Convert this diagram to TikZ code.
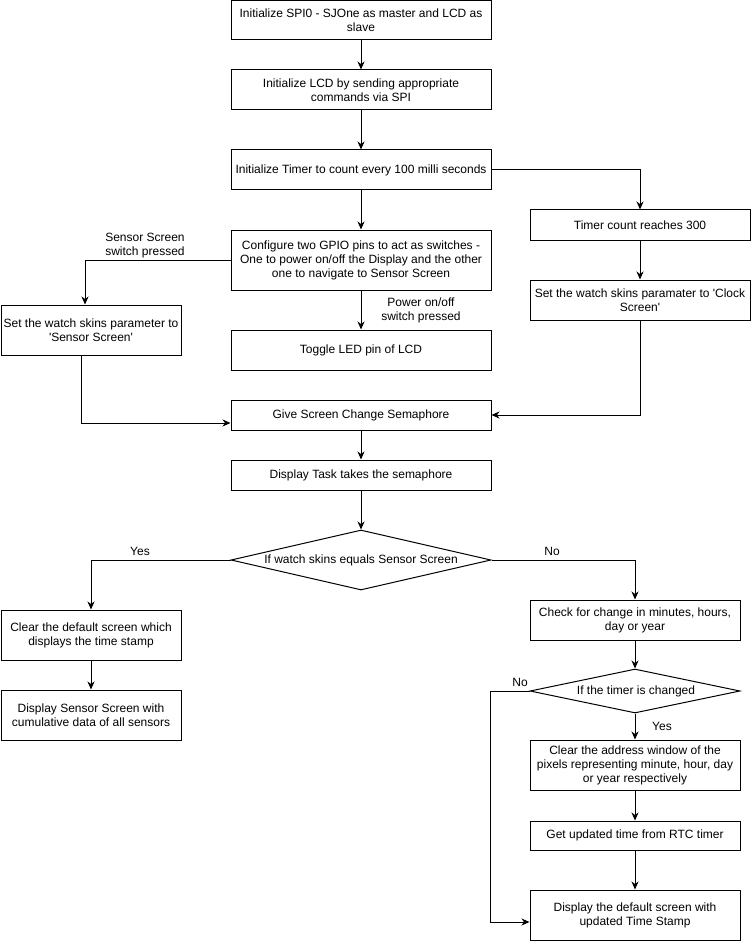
\documentclass[tikz,border=0pt]{standalone}
\usepackage{fontspec}
\setmainfont{Liberation Sans}
\usetikzlibrary{shapes.geometric,arrows.meta}
\begin{document}
\begin{tikzpicture}[x=1pt,y=-1pt,
  every node/.style={font=\fontsize{12}{14}\selectfont, align=center, inner sep=0pt},
  box/.style={draw, line width=1pt, rectangle},
  dia/.style={draw, line width=1pt, diamond},
  lbl/.style={},
  conn/.style={line width=1pt, -{Stealth[length=8pt,width=7pt,inset=2.5pt]}},
]
\useasboundingbox (0,0) rectangle (751,941);
% boxes
\node[box, minimum width=260pt, minimum height=39pt] (b1) at (361,20.5) {Initialize SPI0 - SJOne as master and LCD as\\slave};
\node[box, minimum width=260pt, minimum height=40pt] (b2) at (361,90) {Initialize LCD by sending appropriate\\commands via SPI};
\node[box, minimum width=260pt, minimum height=40pt] (b3) at (361,170) {Initialize Timer to count every 100 milli seconds};
\node[box, minimum width=220pt, minimum height=30pt] (timer) at (640,225) {Timer count reaches 300};
\node[box, minimum width=220pt, minimum height=40pt] (clock) at (640,300) {Set the watch skins paramater to \textquotesingle Clock\\Screen\textquotesingle};
\node[box, minimum width=260pt, minimum height=60pt] (cfg) at (361,260) {Configure two GPIO pins to act as switches -\\One to power on/off the Display and the other\\one to navigate to Sensor Screen};
\node[box, minimum width=180pt, minimum height=50pt] (sensor) at (91,330) {Set the watch skins parameter to\\\textquotesingle Sensor Screen\textquotesingle};
\node[box, minimum width=260pt, minimum height=40pt] (toggle) at (361,350) {Toggle LED pin of LCD};
\node[box, minimum width=260pt, minimum height=30pt] (give) at (361,415) {Give Screen Change Semaphore};
\node[box, minimum width=260pt, minimum height=30pt] (disp) at (361,475) {Display Task takes the semaphore};
\node[dia, minimum width=260pt, minimum height=60pt] (d1) at (361,560) {};
\node (d1t) at (361,560) {If watch skins equals Sensor Screen};
\node[box, minimum width=180pt, minimum height=50pt] (clr) at (91,635) {Clear the default screen which\\displays the time stamp};
\node[box, minimum width=180pt, minimum height=50pt] (dss) at (91,715) {Display Sensor Screen with\\cumulative data of all sensors};
\node[box, minimum width=210pt, minimum height=40pt] (chk) at (635,620) {Check for change in minutes, hours,\\day or year};
\node[dia, minimum width=210pt, minimum height=44pt] (d2) at (635,691) {};
\node (d2t) at (636,691) {If the timer is changed};
\node[box, minimum width=210pt, minimum height=50pt] (caw) at (635,765) {Clear the address window of the\\pixels representing minute, hour, day\\or year respectively};
\node[box, minimum width=210pt, minimum height=29pt] (get) at (635,835.5) {Get updated time from RTC timer};
\node[box, minimum width=210pt, minimum height=50pt] (dds) at (635,915) {Display the default screen with\\updated Time Stamp};
% labels
\node[lbl] (lsens) at (145,246) {Sensor Screen\\switch pressed};
\node[lbl] (lpow) at (421,310.5) {Power on/off\\switch pressed};
\node[lbl] (lyes1) at (140,551) {Yes};
\node[lbl] (lno1) at (552,551) {No};
\node[lbl] (lno2) at (520,682) {No};
\node[lbl] (lyes2) at (662,726) {Yes};
% connectors
\draw[conn] (b1) -- (b2);
\draw[conn] (b2) -- (b3);
\draw[conn] (b3) -- (cfg);
\draw[conn] (b3.east) -| (timer.north);
\draw[conn] (timer) -- (clock);
\draw[conn] (clock.south) |- (give.east);
\draw[conn] (cfg.west) -| ([xshift=-6pt]sensor.north);
\draw[conn] (cfg) -- (toggle);
\draw[conn] ([xshift=-10pt]sensor.south) |- ([yshift=-8pt]give.west);
\draw[conn] (give) -- (disp);
\draw[conn] (disp) -- (d1.north);
\draw[conn] (d1.west) -| (clr.north);
\draw[conn] (d1.east) -| (chk.north);
\draw[conn] (clr) -- (dss);
\draw[conn] (chk) -- (d2.north);
\draw[conn] (d2.south) -- (caw.north);
\draw[conn] (d2.west) -- ++(-39,0) |- ([yshift=-7pt]dds.west);
\draw[conn] (caw) -- (get);
\draw[conn] (get) -- (dds);
\end{tikzpicture}
\end{document}
